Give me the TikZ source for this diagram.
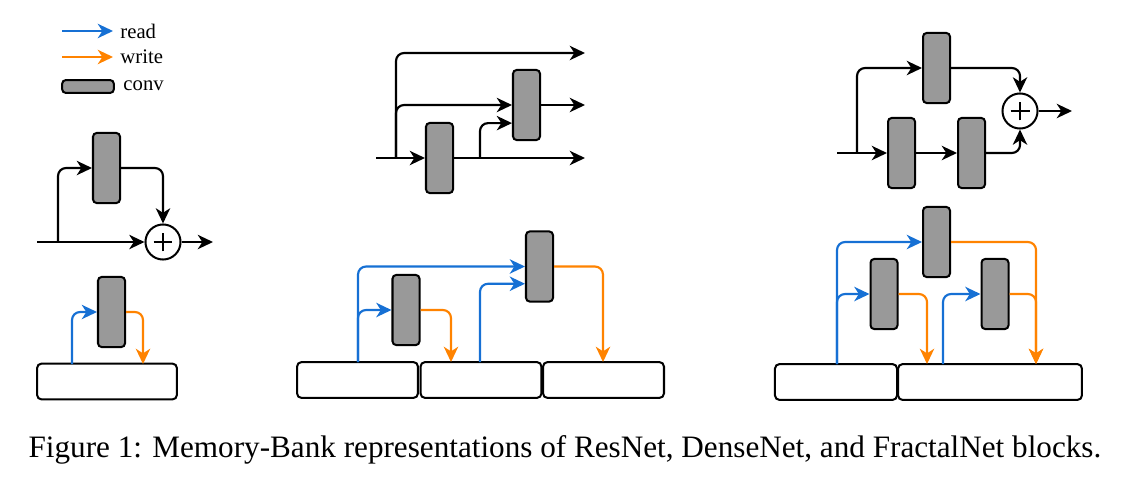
\documentclass[tikz,border=0pt]{standalone}
\usepackage{fontspec}
\setmainfont{Liberation Serif}
\usetikzlibrary{arrows.meta}
\definecolor{convgray}{RGB}{153,153,153}
\definecolor{readblue}{RGB}{22,112,212}
\definecolor{writeorange}{RGB}{255,131,0}
\tikzstyle{arrow} = [line width=0.75pt,-{Stealth[length=5.3pt,width=5pt,inset=1.6pt]},rounded corners=2.8pt]
\tikzstyle{readarrow} = [arrow,readblue]
\tikzstyle{writearrow} = [arrow,writeorange]
\tikzstyle{conv} = [draw,fill=convgray,line width=0.7pt,rounded corners=1.3pt,minimum width=9.4pt,minimum height=24.4pt,inner sep=0pt]
\tikzstyle{bank} = [draw,line width=0.7pt,rounded corners=1.6pt,minimum height=12.5pt,inner sep=0pt]
\tikzstyle{sum} = [draw,circle,line width=0.7pt,minimum size=12.2pt,inner sep=0pt,
  path picture={\draw[line width=0.6pt] ([xshift=-3.3pt]path picture bounding box.center) -- ([xshift=3.3pt]path picture bounding box.center)
    ([yshift=-3.3pt]path picture bounding box.center) -- ([yshift=3.3pt]path picture bounding box.center);}]
\tikzstyle{legend} = [anchor=west,inner sep=2.4pt,font=\fontsize{7.2}{8}\selectfont]

\begin{document}
\begin{tikzpicture}[x=0.348pt,y=-0.348pt]
        \useasboundingbox (0,0) rectangle (1123,477);

        %legend
        \coordinate (lr) at (62,31);
        \coordinate (lw) at (62,57);
        \node[legend] (lread) at (113,31) {read};
        \node[legend] (lwrite) at (113,57) {write};
        \node[conv,minimum width=18pt,minimum height=4.5pt] (lconv) at (88,86.5) {};
        \node[legend] (ltext) at (116,86) {conv};
        \draw [readarrow] (lr) -- (lread.west);
        \draw [writearrow] (lw) -- (lwrite.west);

        %resnet
        \node[conv] (rc) at (106.5,168) {};
        \node[sum] (rsum) at (163,242) {};
        \coordinate (rin) at (37,242);
        \coordinate (rbr) at (58,242);
        \coordinate (rout) at (213,242);
        \draw [arrow] (rin) -- (rsum);
        \draw [arrow] (rbr) |- (rc.west);
        \draw [arrow] (rc.east) -| (rsum.north);
        \draw [arrow] (rsum) -- (rout);

        %resnet memory bank
        \node[bank,minimum width=48.7pt] (rm) at (107,381.5) {};
        \node[conv] (rmc) at (111.5,312) {};
        \coordinate (rmr) at (72,364);
        \coordinate (rmw) at (143,364);
        \draw [readarrow] (rmr) |- (rmc.west);
        \draw [writearrow] (rmc.east) -| (rmw);

        %densenet
        \node[conv] (dc1) at (439.5,158) {};
        \node[conv] (dc2) at (526.5,105) {};
        \coordinate (din) at (376,158);
        \coordinate (dbr) at (396,158);
        \coordinate (db2) at (480,158);
        \coordinate (dout1) at (585,53);
        \coordinate (dout2) at (585,105);
        \coordinate (dout3) at (585,158);
        \draw [arrow] (din) -- (dc1);
        \draw [arrow] (dbr) |- (dout1);
        \draw [arrow] (dbr) |- (dc2.west);
        \draw [arrow] (db2) |- ([yshift=-6.3pt]dc2.west);
        \draw [arrow] (dc1) -- (dout3);
        \draw [arrow] (dc2) -- (dout2);

        %densenet memory bank
        \node[bank,minimum width=42.1pt] (dm1) at (357.5,380) {};
        \node[bank,minimum width=42.1pt] (dm2) at (481,380) {};
        \node[bank,minimum width=42.1pt] (dm3) at (603.5,380) {};
        \node[conv] (dmc1) at (406,310) {};
        \node[conv] (dmc2) at (539.5,266.5) {};
        \coordinate (dmr1) at (358,362);
        \coordinate (dmr2) at (480,362);
        \coordinate (dmw1) at (451,362);
        \coordinate (dmw2) at (603,362);
        \draw [readarrow] (dmr1) |- (dmc2.west);
        \draw [readarrow] (dmr1) |- (dmc1.west);
        \draw [readarrow] (dmr2) |- ([yshift=-6pt]dmc2.west);
        \draw [writearrow] (dmc1.east) -| (dmw1);
        \draw [writearrow] (dmc2.east) -| (dmw2);

        %fractalnet
        \node[conv] (ft) at (936.5,68) {};
        \node[conv] (fa) at (901.5,153) {};
        \node[conv] (fb) at (971.5,153) {};
        \node[sum] (fsum) at (1020,111) {};
        \coordinate (fin) at (837,153);
        \coordinate (fbr) at (857,153);
        \coordinate (fout) at (1072,111);
        \draw [arrow] (fin) -- (fa);
        \draw [arrow] (fa) -- (fb);
        \draw [arrow] (fbr) |- (ft.west);
        \draw [arrow] (ft.east) -| (fsum.north);
        \draw [arrow] (fb.east) -| (fsum.south);
        \draw [arrow] (fsum) -- (fout);

        %fractalnet memory bank
        \node[bank,minimum width=42.5pt] (fm1) at (836,382) {};
        \node[bank,minimum width=64pt] (fm2) at (990,382) {};
        \node[conv] (fmt) at (936.5,242) {};
        \node[conv] (fma) at (884,294) {};
        \node[conv] (fmb) at (995,294) {};
        \coordinate (fmr1) at (837,364);
        \coordinate (fmr2) at (943,364);
        \coordinate (fmw1) at (927,364);
        \coordinate (fmw2) at (1036,364);
        \draw [readarrow] (fmr1) |- (fmt.west);
        \draw [readarrow] (fmr1) |- (fma.west);
        \draw [readarrow] (fmr2) |- (fmb.west);
        \draw [writearrow] (fmt.east) -| (fmw2);
        \draw [writearrow] (fmb.east) -| (fmw2);
        \draw [writearrow] (fma.east) -| (fmw1);

        %caption
        \node[anchor=base west,inner sep=0pt,font=\fontsize{10.85}{13}\selectfont] (cap) at (28,457) {Figure 1: Memory-Bank representations of ResNet, DenseNet, and FractalNet blocks.};

\end{tikzpicture}
\end{document}
